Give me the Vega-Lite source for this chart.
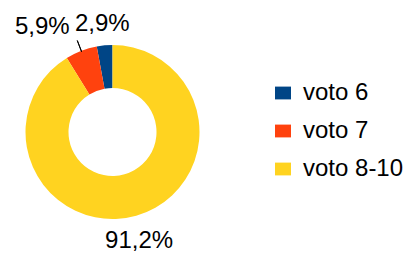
{
  "$schema": "https://vega.github.io/schema/vega-lite/v6.json",
  "width": 225,
  "height": 244,
  "autosize": "none",
  "padding": {"left": 0, "top": 10, "right": 185, "bottom": 0},
  "background": "white",
  "view": {"stroke": null},
  "config": {"font": "Liberation Sans"},
  "data": {
    "values": [
      {"categoria": "voto 6", "percent": 2.9, "label": "2,9%"},
      {"categoria": "voto 7", "percent": 5.9, "label": "5,9%"},
      {"categoria": "voto 8-10", "percent": 91.2, "label": "91,2%"}
    ]
  },
  "transform": [
    {"stack": "percent", "groupby": [], "sort": [{"field": "percent", "order": "descending"}], "as": ["p0", "p1"]},
    {"calculate": "(datum.p0 + datum.p1) / 2", "as": "pmid"}
  ],
  "layer": [
    {
      "mark": {"type": "arc", "innerRadius": 44, "outerRadius": 87},
      "encoding": {
        "theta": {"field": "p0", "type": "quantitative", "scale": {"domain": [0, 100]}},
        "theta2": {"field": "p1"},
        "color": {
          "field": "categoria",
          "type": "nominal",
          "scale": {"domain": ["voto 6", "voto 7", "voto 8-10"], "range": ["#004586", "#ff420e", "#ffd320"]},
          "legend": {
            "title": null,
            "orient": "none",
            "legendX": 271,
            "legendY": 71,
            "padding": 0,
            "symbolType": "M-1,-0.8H1V0.8H-1Z",
            "symbolSize": 256,
            "symbolStrokeWidth": 0,
            "symbolOpacity": 1,
            "symbolOffset": 0,
            "labelFontSize": 24,
            "labelFont": "Liberation Sans",
            "labelColor": "black",
            "labelOffset": 8,
            "rowPadding": 14
          }
        }
      }
    },
    {
      "transform": [{"filter": "datum.categoria == 'voto 7'"}],
      "mark": {"type": "arc", "innerRadius": 86, "outerRadius": 98, "filled": false, "stroke": "black", "strokeWidth": 1},
      "encoding": {
        "theta": {"field": "pmid", "type": "quantitative", "scale": {"domain": [0, 100]}},
        "theta2": {"field": "pmid"}
      }
    },
    {
      "transform": [{"filter": "datum.categoria == 'voto 6'"}],
      "mark": {"type": "text", "radius": 112, "dx": 0, "dy": 4, "fontSize": 24, "font": "Liberation Sans", "color": "black", "align": "center", "baseline": "middle"},
      "encoding": {
        "theta": {"field": "pmid", "type": "quantitative", "scale": {"domain": [0, 100]}},
        "text": {"field": "label"}
      }
    },
    {
      "transform": [{"filter": "datum.categoria == 'voto 7'"}],
      "mark": {"type": "text", "radius": 112, "dx": -30, "dy": 0, "fontSize": 24, "font": "Liberation Sans", "color": "black", "align": "center", "baseline": "middle"},
      "encoding": {
        "theta": {"field": "pmid", "type": "quantitative", "scale": {"domain": [0, 100]}},
        "text": {"field": "label"}
      }
    },
    {
      "transform": [{"filter": "datum.categoria == 'voto 8-10'"}],
      "mark": {"type": "text", "radius": 112, "dx": -4, "dy": 1, "fontSize": 24, "font": "Liberation Sans", "color": "black", "align": "center", "baseline": "middle"},
      "encoding": {
        "theta": {"field": "pmid", "type": "quantitative", "scale": {"domain": [0, 100]}},
        "text": {"field": "label"}
      }
    }
  ]
}
